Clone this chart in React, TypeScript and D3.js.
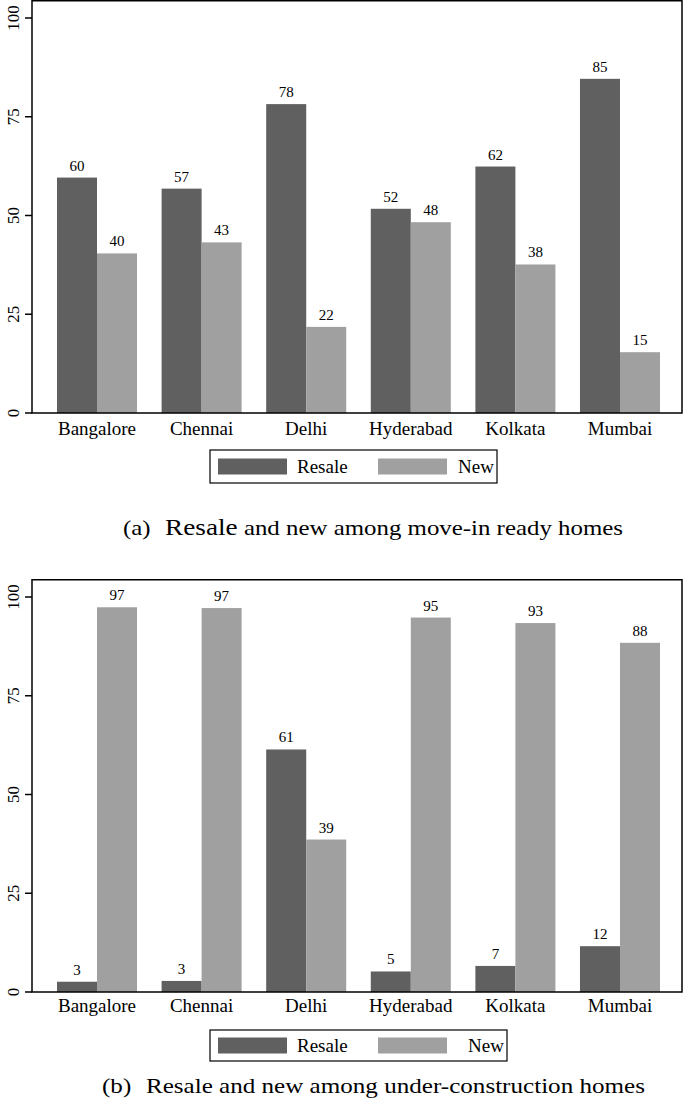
import React from 'react';
import * as d3 from 'd3';

const cities = ['Bangalore', 'Chennai', 'Delhi', 'Hyderabad', 'Kolkata', 'Mumbai'];
const yTicks = [0, 25, 50, 75, 100];

// (a) move-in ready
const readyResale = [59.6, 56.8, 78.2, 51.7, 62.4, 84.6];
const readyNew = [40.4, 43.2, 21.8, 48.3, 37.6, 15.4];
// (b) under construction
const ucResale = [2.6, 2.8, 61.4, 5.2, 6.6, 11.6];
const ucNew = [97.4, 97.2, 38.6, 94.8, 93.4, 88.4];

const DARK = '#606060';
const LIGHT = '#a0a0a0';
const FONT = '"Liberation Serif", "DejaVu Serif", serif';

function Panel({ resale, fresh, top, legendW, caption, captionX, captionW, captionY, labelGap, bigResale }) {
    const left = 32;
    const right = 682;
    const y = d3.scaleLinear().domain([0, 100]).range([top + 413, top + 18]);
    const x = d3.scaleBand().domain(cities).range([57, 660]).paddingInner(0.235).paddingOuter(0);
    const bw = x.bandwidth() / 2;
    const base = y(0);
    const series = [
        { name: 'Resale', vals: resale, color: DARK, off: 0 },
        { name: 'New', vals: fresh, color: LIGHT, off: bw },
    ];
    const legX = 210;
    const legTop = base + (top ? 38 : 37);
    const legH = top ? 31 : 33;
    return (
        <g>
            {series.map(s =>
                s.vals.map((v, i) => (
                    <g key={s.name + i}>
                        <rect x={x(cities[i]) + s.off} y={y(v)} width={bw} height={base - y(v)} fill={s.color} />
                        <text x={x(cities[i]) + s.off + bw / 2} y={y(v) - 7} textAnchor="middle" fontSize={15}>
                            {Math.round(v)}
                        </text>
                    </g>
                ))
            )}
            <rect x={left} y={top + 0.75} width={right - left} height={base - top - 0.75} fill="none" stroke="#000" strokeWidth={1.5} />
            {yTicks.map(t => (
                <g key={t}>
                    <line x1={left - 7} x2={left} y1={y(t)} y2={y(t)} stroke="#000" strokeWidth={1.5} />
                    <text transform={`translate(19,${y(t)}) rotate(-90)`} textAnchor="middle" fontSize={17}>{t}</text>
                </g>
            ))}
            {cities.map(c => (
                <text key={c} x={x(c) + x.bandwidth() / 2} y={base + labelGap} textAnchor="middle" fontSize={19}>{c}</text>
            ))}
            <rect x={legX} y={legTop} width={legendW} height={legH} fill="none" stroke="#000" strokeWidth={1.2} />
            <rect x={legX + 8} y={legTop + legH / 2 - 8} width={69} height={16} fill={DARK} />
            <text x={legX + 87} y={legTop + legH / 2 + 6.5} fontSize={19}>Resale</text>
            <rect x={legX + 168} y={legTop + legH / 2 - 8} width={69} height={16} fill={LIGHT} />
            <text x={legX + legendW - 3} y={legTop + legH / 2 + 6.5} fontSize={19} textAnchor="end">New</text>
            <text x={captionX} y={captionY} fontSize={21} textLength={captionW} lengthAdjust="spacingAndGlyphs">
                {caption[0]}
                <tspan dx={7} fontSize={bigResale ? 23 : 21}>Resale</tspan>
                {caption[1]}
            </text>
        </g>
    );
}

export default function App() {
    return (
        <svg width={685} height={1104} style={{ position: 'absolute', left: 0, top: 0, background: '#fff' }} fontFamily={FONT}>
            <Panel resale={readyResale} fresh={readyNew} top={0} legendW={287} labelGap={22}
                caption={['(a) ', ' and new among move-in ready homes']} captionX={123} captionW={500} captionY={535} bigResale />
            <Panel resale={ucResale} fresh={ucNew} top={579} legendW={297} labelGap={20}
                caption={['(b) ', ' and new among under-construction homes']} captionX={102} captionW={543} captionY={1093} bigResale={false} />
        </svg>
    );
}
